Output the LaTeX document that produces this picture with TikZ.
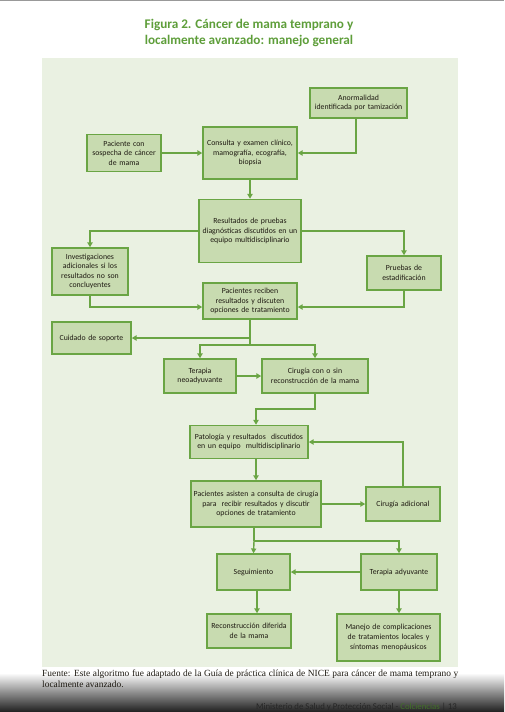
\documentclass[tikz,border=0pt]{standalone}
\usepackage{fontspec}
\setmainfont{Carlito}
\newfontfamily\fuentefont{Liberation Serif}
\usetikzlibrary{arrows.meta,calc}
\definecolor{titlegreen}{HTML}{5E9E3A}
\definecolor{boxline}{HTML}{6AA544}
\definecolor{boxfill}{HTML}{C8DBB0}
\definecolor{panelbg}{HTML}{EAF1E2}
\definecolor{txtdark}{HTML}{1E1A12}
\tikzset{
  fbox/.style={draw=boxline, fill=boxfill, line width=1.5pt, align=center,
    inner sep=0.5pt, font=\fontsize{7.8}{9.6}\selectfont, text=txtdark},
  arr/.style={draw=boxline, line width=1.4pt, -{Triangle[length=4.8pt,width=5.2pt]}},
  ln/.style={draw=boxline, line width=1.4pt}
}
\newcommand{\bx}[6]{% name, cx, cy, w, h, text
  \node[fbox, minimum width=#4pt, minimum height=#5pt, text width=#4pt-2pt] (#1) at (#2,#3) {#6};}
\begin{document}
\begin{tikzpicture}[x=1pt,y=-1pt]
\useasboundingbox (0,0) rectangle (504,712);
\fill[white] (0,0) rectangle (504,712);
\draw[black!40, line width=1pt] (0,0.5) -- (504,0.5);
% title
\node[font=\bfseries\fontsize{13.2}{16.2}\selectfont, text=titlegreen, align=center] (title) at (249,33) {Figura 2. Cáncer de mama temprano y\\localmente avanzado: manejo general};
% panel
\fill[panelbg] (42,58) rectangle (458,667);
% boxes
\bx{anom}{358.5}{103}{97}{30}{Anormalidad\\identificada por tamización}
\bx{pac}{124}{153}{74}{37}{Paciente con\\sospecha de cáncer\\de mama}
\bx{cons}{250}{153}{94}{52}{Consulta y examen clínico,\\mamografía, ecografía,\\biopsia}
\bx{res}{250}{231}{102}{63}{Resultados de pruebas\\diagnósticas discutidos en un\\equipo multidisciplinario}
\bx{inv}{90}{271.5}{76}{47}{Investigaciones\\adicionales si los\\resultados no son\\concluyentes}
\bx{prue}{404}{273}{74}{34}{Pruebas de\\estadificación}
\bx{pacr}{250}{301}{94}{36}{Pacientes reciben\\resultados y discuten\\opciones de tratamiento}
\bx{cuid}{91.5}{338}{79}{32}{Cuidado de soporte}
\bx{neo}{200}{376}{72}{34}{Terapia\\neoadyuvante}
\bx{cir}{315}{376}{106}{34}{Cirugía con o sin\\reconstrucción de la mama}
\bx{pat}{249}{442}{118}{33}{Patología y resultados\ \ discutidos\\en un equipo\ \ multidisciplinario}
\bx{pas}{256}{504}{130}{46}{Pacientes asisten a consulta de cirugía\\para\ \ recibir resultados y discutir\\opciones de tratamiento}
\bx{cad}{403}{504}{74}{34}{Cirugía adicional}
\bx{seg}{253.5}{572}{73}{36}{Seguimiento}
\bx{ady}{399}{572}{76}{36}{Terapia adyuvante}
\bx{rec}{249}{631}{84}{34}{Reconstrucción diferida\\de la mama}
\bx{man}{388.5}{637.5}{103}{47}{Manejo de complicaciones\\de tratamientos locales y\\síntomas menopáusicos}
% connectors
\draw[arr] ([xshift=-2.5pt]anom.south) |- (cons.east);
\draw[arr] (pac.east) -- (cons.west);
\draw[arr] (cons.south) -- (res.north);
\draw[arr] (res.west) -| (inv.north);
\draw[arr] (res.east) -| (prue.north);
\draw[arr] (inv.south) |- ([yshift=-6pt]pacr.west);
\draw[arr] (prue.south) |- ([yshift=-6pt]pacr.east);
\coordinate (b1) at (250,345);
\draw[arr] (pacr.south) |- (cuid.east);
\draw[ln] (pacr.south) -- (b1);
\draw[arr] (b1) -| (neo.north);
\draw[arr] (b1) -| (cir.north);
\draw[arr] (neo.east) -- (cir.west);
\coordinate (b2) at (315,409);
\draw[arr] (cir.south) -- (b2) -| ([xshift=7pt]pat.north);
\draw[arr] ([xshift=7pt]pat.south) -- (pas.north);
\draw[arr] (pas.east) -- (cad.west);
\draw[arr] (cad.north) |- (pat.east);
\coordinate (b3) at (254,541);
\draw[ln] ([xshift=-2pt]pas.south) -- (b3);
\draw[arr] (b3) -- (seg.north);
\draw[arr] (b3) -| (ady.north);
\draw[arr] (ady.west) -- (seg.east);
\draw[arr] ([xshift=3.5pt]seg.south) -- ([xshift=3.5pt]seg.south |- rec.north);
\draw[arr] (ady.south) -- (ady.south |- man.north);
% bottom shadow
\shade[top color=white, bottom color=black!88, middle color=black!45] (0,673) rectangle (504,712);
\node[anchor=north west, text width=416pt, align=justify, inner sep=0pt,
  font=\fuentefont\fontsize{9.4}{11}\selectfont, text=txtdark] (fuente) at (42,670)
  {Fuente: Este algoritmo fue adaptado de la Guía de práctica clínica de NICE para cáncer de mama temprano y localmente avanzado.};
\node[anchor=base east, inner sep=0pt, font=\fontsize{8.8}{10}\selectfont, text=black!85] (footer) at (457,709.5)
  {Ministerio de Salud y Protección Social - \textcolor{titlegreen!70!black}{Colciencias} | 13};
\end{tikzpicture}
\end{document}
